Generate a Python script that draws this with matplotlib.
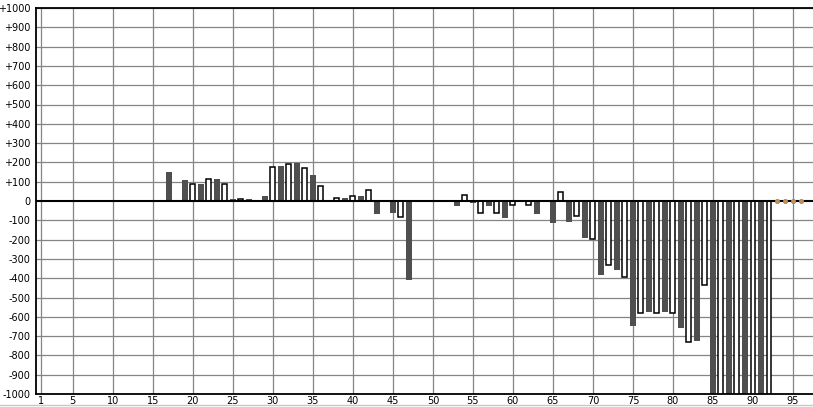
import matplotlib
matplotlib.use("Agg")
import matplotlib.pyplot as plt
from matplotlib.ticker import FixedLocator, FixedFormatter

# Data
positions = [17, 19, 20, 21, 22, 23, 24, 25, 26, 27, 29, 30, 31, 32, 33, 34, 35, 36,
             38, 39, 40, 41, 42, 43, 45, 46, 47, 53, 54, 55, 56, 57, 58, 59, 60, 62,
             63, 65, 66, 67, 68, 69, 70, 71, 72, 73, 74, 75, 76, 77, 78, 79, 80, 81,
             82, 83, 84, 85, 86, 87, 88, 89, 90, 91, 92]
values = [150, 110, 90, 90, 115, 115, 90, 10, 10, 8, 25, 178, 180, 194, 195, 172, 137, 77,
          14, 16, 25, 26, 56, -65, -60, -85, -410, -28, 33, -9, -63, -28, -63, -86, -21, -21,
          -65, -112, 47, -107, -79, -191, -196, -381, -332, -358, -395, -650, -578, -575, -578, -575, -578, -658,
          -729, -726, -433, -1200, -1200, -1200, -1200, -1200, -1200, -1200, -1200]
zero_points = [93, 94, 95, 96]
zero_values = [0, 0, 0, 0]

x_ticks = [1, 5, 10, 15, 20, 25, 30, 35, 40, 45, 50, 55, 60, 65, 70, 75, 80, 85, 90, 95]
y_ticks = list(range(-1000, 1001, 100))
y_labels = [("+%d" % v if v > 0 else "%d" % v) for v in y_ticks]

fig = plt.figure(figsize=(8.13, 4.07), dpi=100)
ax = fig.add_axes([36 / 813, 13 / 407, 1 - 36 / 813, (394 - 8) / 407])

ax.set_xlim(0.4, 97.5)
ax.set_ylim(-1000, 1000)

grid_color = "#858585"
for x in x_ticks:
    ax.axvline(x, color=grid_color, lw=0.9, zorder=0)
for y in y_ticks:
    if y != 0:
        ax.axhline(y, color=grid_color, lw=0.9, zorder=0)

dark_x = [p for p, v in zip(positions, values) if p % 2 == 1]
dark_v = [v for p, v in zip(positions, values) if p % 2 == 1]
light_x = [p for p, v in zip(positions, values) if p % 2 == 0]
light_v = [v for p, v in zip(positions, values) if p % 2 == 0]

ax.bar(dark_x, dark_v, width=0.75, color="#4f4f4f", edgecolor="none", zorder=2)
ax.bar(light_x, light_v, width=0.62, color="white", edgecolor="black", linewidth=1.1, zorder=2)

ax.axhline(0, color="black", lw=1.5, zorder=3)

ax.plot(zero_points, zero_values, linestyle="none", marker="o", markersize=3,
        markerfacecolor="#e08a2c", markeredgecolor="#5b9bd5", markeredgewidth=0.6, zorder=4)

ax.xaxis.set_major_locator(FixedLocator(x_ticks))
ax.yaxis.set_major_locator(FixedLocator(y_ticks))
ax.yaxis.set_major_formatter(FixedFormatter(y_labels))
ax.tick_params(axis="both", length=0, labelsize=7, colors="black")
ax.tick_params(axis="y", pad=4)
ax.tick_params(axis="x", pad=1.5)

for side in ["left", "top", "bottom"]:
    ax.spines[side].set_color("black")
    ax.spines[side].set_linewidth(1.3)
ax.spines["right"].set_visible(False)

fig.add_artist(plt.Line2D([0, 1], [2 / 407, 2 / 407], color="#c8c8c8", lw=1.0))

fig.savefig("out.png", dpi=100, facecolor="white")
